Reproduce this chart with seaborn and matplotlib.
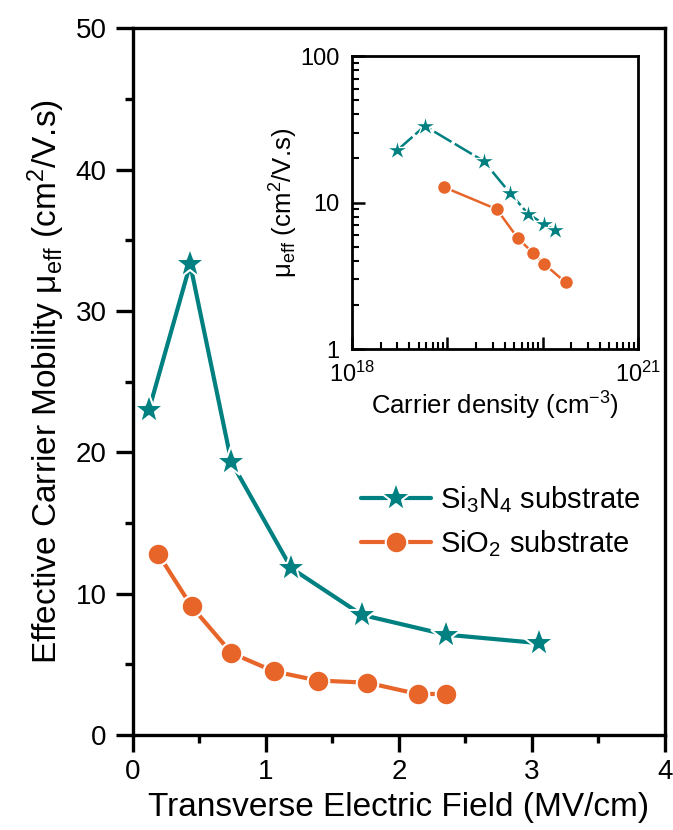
import matplotlib
matplotlib.use("Agg")
import matplotlib.pyplot as plt
import matplotlib.ticker as mticker
import seaborn as sns
import numpy as np
import pandas as pd

# ---- data ----
field_si3n4 = [0.12, 0.43, 0.74, 1.19, 1.72, 2.35, 3.05]
mob_si3n4 = [23.0, 33.3, 19.3, 11.8, 8.5, 7.1, 6.5]
field_sio2 = [0.19, 0.44, 0.74, 1.06, 1.39, 1.76, 2.14, 2.35]
mob_sio2 = [12.8, 9.1, 5.8, 4.5, 3.85, 3.7, 2.9, 2.9]

dens_si3n4 = [3.0e18, 5.8e18, 2.4e19, 4.5e19, 7.0e19, 1.04e20, 1.36e20]
imob_si3n4 = [22.8, 33.3, 19.2, 11.7, 8.4, 7.1, 6.45]
dens_sio2 = [9.3e18, 3.3e19, 5.5e19, 8.0e19, 1.04e20, 1.74e20]
imob_sio2 = [12.7, 9.0, 5.7, 4.5, 3.8, 2.85]

labels = [r"Si$_3$N$_4$ substrate", r"SiO$_2$ substrate"]
teal = "#008080"
orange = "#E8652A"

sns.set_theme(style="ticks")
plt.rcParams["font.family"] = ["Liberation Sans", "DejaVu Sans"]
plt.rcParams["mathtext.fontset"] = "custom"
plt.rcParams["mathtext.rm"] = "Liberation Sans"
plt.rcParams["mathtext.it"] = "Liberation Sans:italic"
plt.rcParams["mathtext.bf"] = "Liberation Sans:bold"
plt.rcParams["axes.unicode_minus"] = False
plt.rcParams["text.color"] = "black"
plt.rcParams["axes.labelcolor"] = "black"
plt.rcParams["xtick.color"] = "black"
plt.rcParams["ytick.color"] = "black"

fig = plt.figure(figsize=(6.73, 8.30), dpi=100)
ax = fig.add_axes([0.1976, 0.1145, 0.7905, 0.8515])

sns.lineplot(x=field_si3n4, y=mob_si3n4, ax=ax, color=teal, lw=3, marker="*",
             markersize=23, markeredgecolor="white", markeredgewidth=1.5,
             sort=False, label=labels[0])
sns.lineplot(x=field_sio2, y=mob_sio2, ax=ax, color=orange, lw=3, marker="o",
             markersize=15.5, markeredgecolor="white", markeredgewidth=1.5,
             sort=False, label=labels[1])

ax.set_xlim(0, 4)
ax.set_ylim(0, 50)
ax.xaxis.set_major_locator(mticker.MultipleLocator(1))
ax.xaxis.set_minor_locator(mticker.MultipleLocator(0.5))
ax.yaxis.set_major_locator(mticker.MultipleLocator(10))
ax.yaxis.set_minor_locator(mticker.MultipleLocator(5))
for s in ax.spines.values():
    s.set_linewidth(2.4)
    s.set_color("black")
ax.tick_params(which="major", direction="out", length=12, width=2.4,
               labelsize=20, pad=5, colors="black", top=False, right=False)
ax.tick_params(which="minor", direction="out", length=6, width=2.4,
               top=False, right=False)
ax.tick_params(axis="y", which="major", pad=7)
ax.set_xlabel("Transverse Electric Field (MV/cm)", fontsize=24, labelpad=5)
ax.set_ylabel(r"Effective Carrier Mobility μ$_{\mathrm{eff}}$ (cm$^2$/V.s)",
              fontsize=24, labelpad=6)

leg = ax.legend(loc="upper left", bbox_to_anchor=(0.428, 0.355), frameon=False,
                fontsize=21, handlelength=2.4, handletextpad=0.33,
                labelspacing=0.45, borderpad=0, borderaxespad=0)

# ---- inset ----
ins = fig.add_axes([0.523, 0.5795, 0.425, 0.353])
sns.lineplot(x=dens_si3n4, y=imob_si3n4, ax=ins, color=teal, lw=1.8, marker="*",
             markersize=16, markeredgecolor="white", markeredgewidth=1.0,
             sort=False, linestyle=(0, (8, 1.5)), legend=False)
sns.lineplot(x=dens_sio2, y=imob_sio2, ax=ins, color=orange, lw=1.8, marker="o",
             markersize=10, markeredgecolor="white", markeredgewidth=1.0,
             sort=False, legend=False)
ins.set_xscale("log")
ins.set_yscale("log")
ins.set_xlim(1e18, 1e21)
ins.set_ylim(1, 100)
ins.xaxis.set_major_locator(mticker.LogLocator(base=10, numticks=10))
ins.xaxis.set_minor_locator(mticker.LogLocator(base=10, subs=np.arange(2, 10), numticks=20))
ins.yaxis.set_major_locator(mticker.FixedLocator([1, 10, 100]))
ins.yaxis.set_minor_locator(mticker.LogLocator(base=10, subs=np.arange(2, 10), numticks=20))
ins.xaxis.set_minor_formatter(mticker.NullFormatter())
ins.yaxis.set_minor_formatter(mticker.NullFormatter())
ins.xaxis.set_major_formatter(mticker.FuncFormatter(
    lambda v, p: r"$10^{%d}$" % round(np.log10(v)) if round(np.log10(v)) in (18, 21) else ""))
ins.yaxis.set_major_formatter(mticker.FuncFormatter(lambda v, p: "%d" % v))
for s in ins.spines.values():
    s.set_linewidth(2.0)
    s.set_color("black")
ins.tick_params(which="major", direction="in", length=9, width=1.8,
                labelsize=17, top=False, right=False, colors="black")
ins.tick_params(which="minor", direction="in", length=5, width=1.5,
                top=False, right=False)
ins.tick_params(axis="y", which="major", pad=9)
ins.tick_params(axis="x", which="major", pad=9)
ins.set_xlabel(r"Carrier density (cm$^{-3}$)", fontsize=18.5, labelpad=2)
ins.set_ylabel(r"μ$_{\mathrm{eff}}$ (cm$^2$/V.s)", fontsize=18.5, labelpad=0)

fig.savefig("out.png", dpi=100)
